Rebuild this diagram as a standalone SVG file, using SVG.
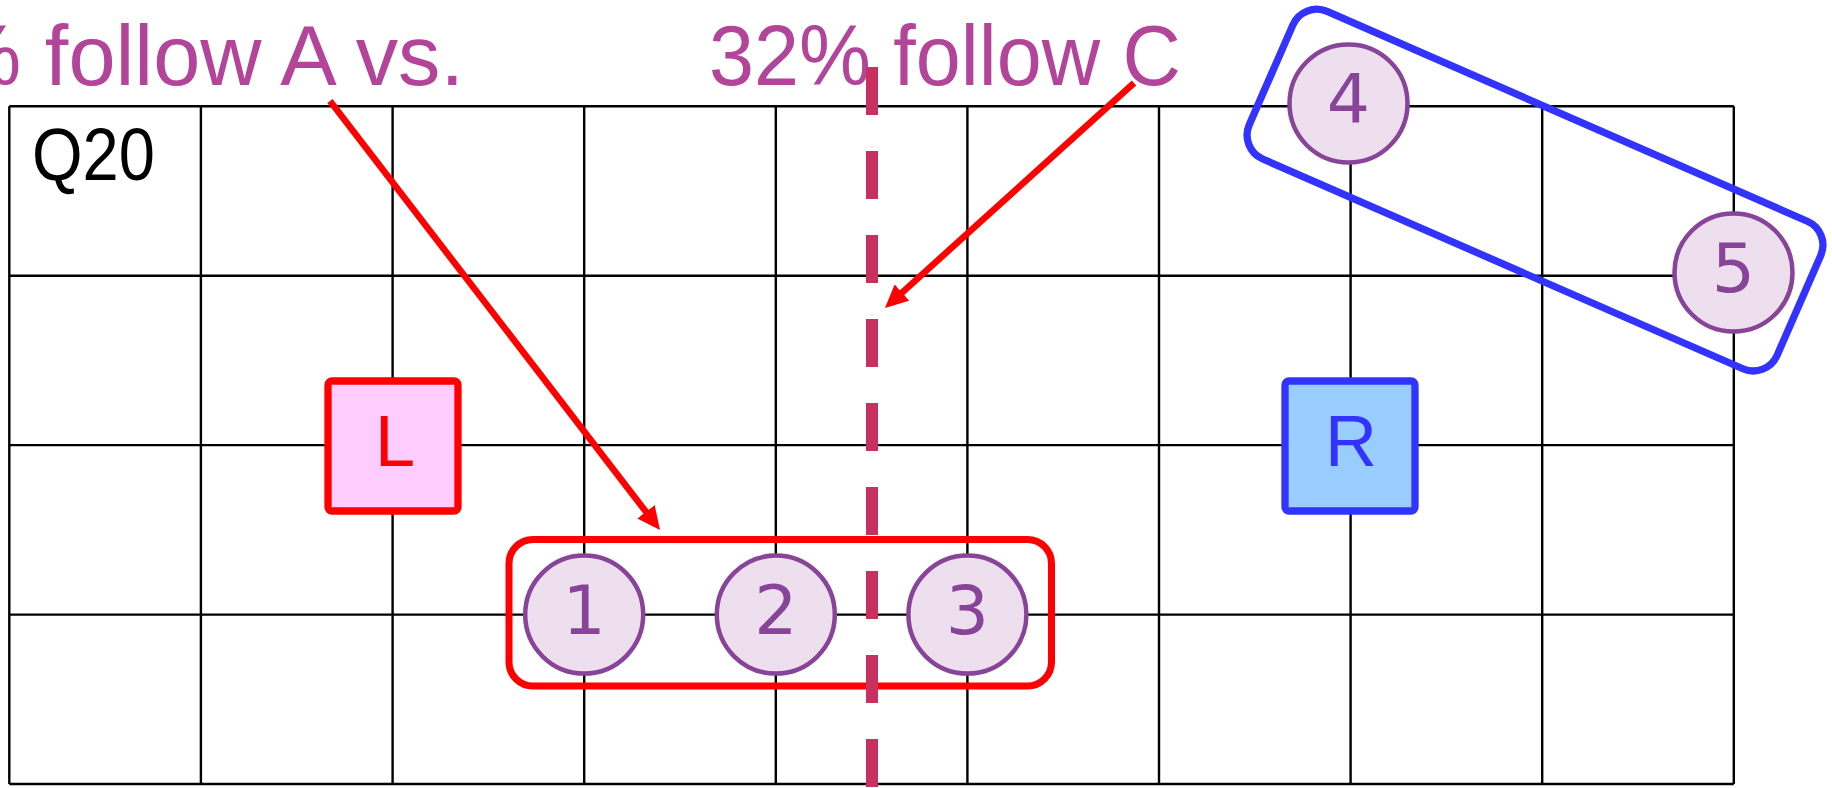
<svg xmlns="http://www.w3.org/2000/svg" width="1832" height="788" viewBox="0 0 1832 788">
  <style>
    .grid { stroke: #000000; stroke-width: 2.4; fill: none; }
    .head { font-family: "Liberation Sans", Arial, sans-serif; font-size: 86px; fill: #B2449A; }
    .q { font-family: "Liberation Sans", Arial, sans-serif; font-size: 74px; fill: #000000; }
    .node circle { fill: #EEDFEE; stroke: #884499; stroke-width: 4.5; }
    .node text.num { font-family: "DejaVu Sans", "Liberation Sans", sans-serif; font-size: 68px; fill: #884499; text-anchor: middle; }
    .box text { font-family: "Liberation Sans", Arial, sans-serif; font-size: 72px; text-anchor: middle; }
    .arrow { stroke: #FF0000; stroke-width: 6.5; fill: none; marker-end: url(#tri); }
    .divider { stroke: #C7305F; stroke-width: 12; stroke-dasharray: 48 36; fill: none; }
  </style>
  <defs>
    <marker id="tri" markerUnits="userSpaceOnUse" viewBox="0 0 23 22" markerWidth="23" markerHeight="22" refX="13" refY="11" orient="auto">
      <path d="M0,0 L23,11 L0,22 z" fill="#FF0000"/>
    </marker>
  </defs>

  <rect x="0" y="0" width="1832" height="788" fill="#FFFFFF"/>

  <!-- 9 x 4 grid of cells -->
  <g id="grid" class="grid">
    <path d="M9.3,106.3 H1733.8 M9.3,275.7 H1733.8 M9.3,445.1 H1733.8 M9.3,614.6 H1733.8 M9.3,784 H1733.8"/>
    <path d="M9.3,106.3 V784 M200.9,106.3 V784 M392.6,106.3 V784 M584.2,106.3 V784 M775.8,106.3 V784 M967.4,106.3 V784 M1159,106.3 V784 M1350.6,106.3 V784 M1542.2,106.3 V784 M1733.8,106.3 V784"/>
  </g>

  <text id="q-label" class="q" x="32" y="180" textLength="123" lengthAdjust="spacingAndGlyphs">Q20</text>

  <!-- headline captions -->
  <text id="caption-left" class="head" x="-54" y="85" textLength="518" lengthAdjust="spacingAndGlyphs">% follow A vs.</text>
  <text id="caption-right" class="head" x="709" y="85" textLength="472" lengthAdjust="spacingAndGlyphs">32% follow C</text>

  <!-- left group outline -->
  <g id="group-left">
    <rect x="509" y="539.5" width="542.5" height="146.5" rx="24" fill="none" stroke="#FF0000" stroke-width="7"/>
  </g>

  <!-- split line -->
  <g id="split">
    <path class="divider" d="M872,67 V788"/>
  </g>

  <!-- right group outline (tilted) -->
  <g id="group-right">
    <rect x="-288" y="-80.5" width="576" height="161" rx="26" fill="none" stroke="#3333FF" stroke-width="7.3" transform="translate(1535 190.1) rotate(23.6)"/>
  </g>

  <g id="box-L" class="box">
    <rect x="328" y="381" width="130" height="130" rx="4" fill="#FFCCFF" stroke="#FF0000" stroke-width="7.3"/>
    <text x="395" y="465.5" fill="#FF0000">L</text>
  </g>
  <g id="box-R" class="box">
    <rect x="1285" y="381" width="130" height="130" rx="4" fill="#99CCFF" stroke="#3333FF" stroke-width="7.3"/>
    <text x="1351" y="465.5" fill="#3333FF">R</text>
  </g>

  <g id="node-1" class="node"><circle cx="584.2" cy="614.6" r="59"/><text class="num" x="584.2" y="634">1</text></g>
  <g id="node-2" class="node"><circle cx="775.8" cy="614.6" r="59"/><text class="num" x="775.8" y="634">2</text></g>
  <g id="node-3" class="node"><circle cx="967.4" cy="614.6" r="59"/><text class="num" x="967.4" y="634">3</text></g>
  <g id="node-4" class="node"><circle cx="1348.5" cy="103.5" r="59"/><text class="num" x="1348.5" y="123">4</text></g>
  <g id="node-5" class="node"><circle cx="1733.5" cy="272.5" r="59"/><text class="num" x="1733.5" y="292">5</text></g>

  <g id="connectors">
    <path class="arrow" d="M330,101 L653.9,522.1"/>
    <path class="arrow" d="M1134,83 L892.4,301.3"/>
  </g>
</svg>
